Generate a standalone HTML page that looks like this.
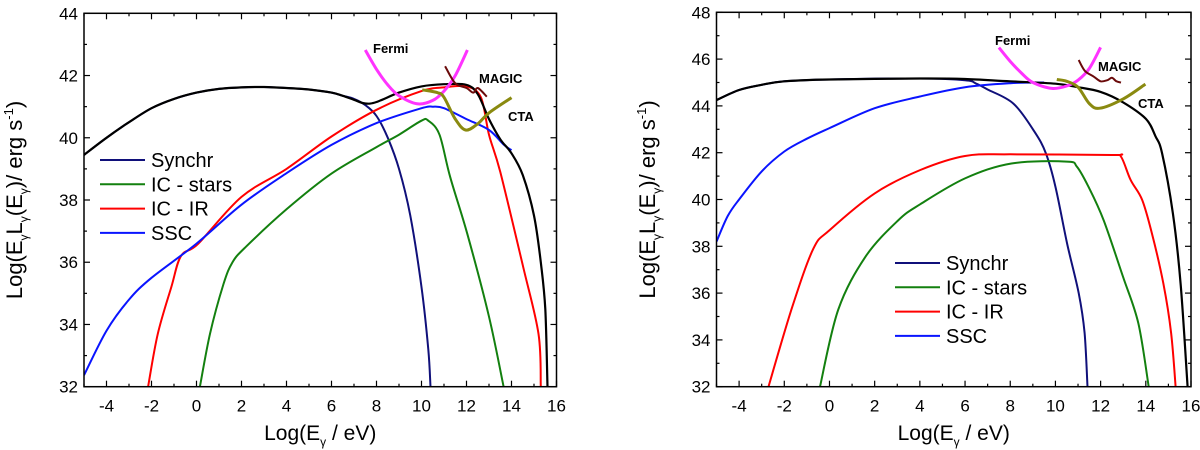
<!DOCTYPE html>
<html><head><meta charset="utf-8"><style>
html,body{margin:0;padding:0;background:#fff;}
svg{display:block;font-family:"Liberation Sans",sans-serif;}
</style></head><body>
<svg id="svg" width="1200" height="450" viewBox="0 0 1200 450"></svg>
<script>
// ---------- data: left panel ----------
const leftTotal=[[-5,39.45],[-4,40.0],[-3,40.5],[-2,40.95],[-1,41.25],[0,41.45],[1,41.57],[2,41.62],[3,41.63],[4,41.6],[5,41.55],[6,41.45],[6.5,41.35],[7,41.22],[7.5,41.1],[8,41.15],[9,41.45],[10,41.65],[11,41.72],[12,41.7],[12.5,41.4],[13,40.6],[13.5,39.95],[14,39.5],[14.5,38.8],[15,37.5],[15.3,36.0],[15.5,34.5],[15.6,32]];
const leftSynchr=[[-5,39.45],[-4,40.0],[-3,40.5],[-2,40.95],[-1,41.25],[0,41.45],[1,41.57],[2,41.62],[3,41.63],[4,41.6],[5,41.55],[6,41.45],[6.5,41.35],[7,41.25],[7.5,41.05],[8,40.7],[8.5,40.0],[9,39.0],[9.5,37.5],[10,35.2],[10.3,33.2],[10.4,32]];
const leftICstars=[[0.15,32],[0.6,33.7],[1.2,35.3],[1.6,36.0],[2.2,36.5],[4,37.7],[6,38.85],[8,39.7],[9,40.1],[10,40.55],[10.3,40.55],[10.8,40.1],[11.27,38.75],[12.04,36.9],[13.0,34.25],[13.65,32]];
const leftICIR=[[-2.15,32],[-1.72,33.7],[-1.12,35.2],[-0.69,36.2],[0.08,36.6],[2,38.1],[4,39.0],[6,40.04],[8,40.9],[10,41.5],[11,41.62],[12,41.65],[12.64,41.3],[13.0,40.1],[13.5,38.9],[14.5,35.9],[15.2,33.7],[15.3,32]];
const leftSSC=[[-5,32.37],[-4,33.8],[-3,34.8],[-2,35.5],[0,36.6],[2,37.85],[4,38.86],[6,39.77],[8,40.47],[10,40.95],[10.5,41.0],[11,40.95],[12,40.6],[13,40.25],[13.67,39.77],[14,39.6]];
const leftFermi=[[7.5,42.82],[8,42.2],[8.5,41.7],[9,41.35],[9.8,41.09],[10.5,41.2],[11,41.5],[11.5,42.0],[12.04,42.82]];
const leftMAGIC=[[11.05,42.3],[11.5,41.75],[12,41.6],[12.3,41.45],[12.5,41.6],[12.9,41.32]];
const leftCTA=[[10.03,41.54],[10.7,41.45],[11,41.3],[11.5,40.6],[11.96,40.25],[12.5,40.45],[13,40.8],[14,41.29]];
// ---------- data: right panel ----------
const rightTotal=[[-5,44.25],[-4,44.68],[-3,44.9],[-2,45.05],[0,45.13],[4,45.17],[6,45.15],[8,45.05],[10,44.95],[11,44.8],[12,44.6],[13,44.15],[14,43.45],[14.43,42.7],[14.72,41.97],[15.2,39.4],[15.54,36.4],[15.85,32]];
const rightSynchr=[[-5,44.25],[-4,44.68],[-3,44.9],[-2,45.05],[0,45.13],[4,45.17],[6,45.1],[6.5,44.95],[7,44.7],[8.14,44.1],[9.07,42.9],[9.58,41.97],[10,40.55],[10.52,38.1],[11.03,36.0],[11.29,34.3],[11.42,32]];
const rightICstars=[[-0.42,32],[0.39,35.3],[1.59,37.55],[3.03,39.1],[4.02,39.8],[6,40.9],[8.05,41.54],[10.5,41.62],[10.95,41.4],[11.46,40.55],[12.14,39.1],[12.99,36.7],[13.67,34.7],[14.13,32]];
const rightICIR=[[-2.7,32],[-1.65,35.4],[-0.71,37.9],[0.02,38.7],[2,40.26],[4.02,41.26],[6,41.86],[8,41.93],[12.5,41.9],[12.9,41.83],[13.33,40.83],[13.84,39.98],[14.27,38.55],[14.78,36.4],[15.12,34.3],[15.32,32]];
const rightSSC=[[-5,38.2],[-4.5,39.3],[-4,40.0],[-3,41.2],[-2,42.05],[-1,42.6],[0,43.05],[2,43.9],[4,44.4],[6,44.8],[8,44.97],[9.5,45.0]];
const rightFermi=[[7.5,46.49],[8,45.9],[8.5,45.4],[9,45.0],[9.84,44.75],[10.5,44.85],[11,45.1],[11.5,45.6],[12,46.5]];
const rightMAGIC=[[11.03,45.96],[11.3,45.5],[11.7,45.25],[12,45.05],[12.3,45.1],[12.5,45.2],[12.7,45.05],[12.9,45.0]];
const rightCTA=[[10.06,45.13],[10.5,45.05],[11,44.8],[11.5,44.1],[11.97,43.9],[13,44.3],[13.98,44.93]];
const xTicks=[-4,-2,0,2,4,6,8,10,12,14,16];
const leftYTicks=[32,34,36,38,40,42,44];
const rightYTicks=[32,34,36,38,40,42,44,46,48];
const legendLabels=["Synchr","IC - stars","IC - IR","SSC"];

const NS="http://www.w3.org/2000/svg";
const svg=document.getElementById('svg');
function mk(tag,attrs,parent){const e=document.createElementNS(NS,tag);for(const k in attrs)e.setAttribute(k,attrs[k]);(parent||svg).appendChild(e);return e;}
const colors={total:"#000",syn:"#10107a",stars:"#13800f",ir:"#ff0000",ssc:"#0a14ff",fermi:"#ff33ff",magic:"#6a0a0a",cta:"#8a8a10"};

function smooth(pts){
  let d='M'+pts[0][0].toFixed(1)+','+pts[0][1].toFixed(1);
  for(let i=0;i<pts.length-1;i++){
    const p0=pts[i-1]||pts[i],p1=pts[i],p2=pts[i+1],p3=pts[i+2]||p2;
    const c1=[p1[0]+(p2[0]-p0[0])/6,p1[1]+(p2[1]-p0[1])/6];
    const c2=[p2[0]-(p3[0]-p1[0])/6,p2[1]-(p3[1]-p1[1])/6];
    d+=' C'+c1[0].toFixed(1)+','+c1[1].toFixed(1)+' '+c2[0].toFixed(1)+','+c2[1].toFixed(1)+' '+p2[0].toFixed(1)+','+p2[1].toFixed(1);
  }
  return d;
}

function panel(p){
  const g=mk('g',{});
  
  
  const X=v=>p.x0+(v-p.xmin)/(p.xmax-p.xmin)*(p.x1-p.x0);
  const Y=v=>p.y1-(v-p.ymin)/(p.ymax-p.ymin)*(p.y1-p.y0);
  const clip='clip-'+p.name;
  const cp=mk('clipPath',{id:clip},g);
  mk('rect',{x:p.x0,y:p.y0,width:p.x1-p.x0,height:p.y1-p.y0},cp);
  const series=[[p.syn,colors.syn,'synchr-curve',2],[p.stars,colors.stars,'ic-stars-curve',2],[p.ir,colors.ir,'ic-ir-curve',2],[p.ssc,colors.ssc,'ssc-curve',2],[p.total,colors.total,'total-curve',2.2],[p.fermi,colors.fermi,'fermi-sensitivity',3],[p.magic,colors.magic,'magic-sensitivity',2],[p.cta,colors.cta,'cta-sensitivity',3]];
  series.forEach(s=>{
    const d=smooth(s[0].map(pt=>[X(pt[0]),Y(pt[1])]));
    const path=mk('path',{d:d,fill:'none',stroke:s[1],'stroke-width':s[3],'stroke-linejoin':'round','clip-path':'url(#'+clip+')'},g);
    
    
  });
  const fr=mk('rect',{x:p.x0,y:p.y0,width:p.x1-p.x0,height:p.y1-p.y0,fill:'none',stroke:'#000','stroke-width':1.5},g);
  
  
  for(let v=p.xmin;v<=p.xmax;v++){
    const len=(v%2===0)?6:3;const x=X(v);
    mk('line',{x1:x,x2:x,y1:p.y1,y2:p.y1-len,stroke:'#000','stroke-width':1.2},g);
    mk('line',{x1:x,x2:x,y1:p.y0,y2:p.y0+len,stroke:'#000','stroke-width':1.2},g);
  }
  xTicks.forEach(v=>{const t=mk('text',{x:X(v),y:p.y1+25,'font-size':17,'text-anchor':'middle'},g);t.textContent=v;
    });
  for(let v=p.ymin;v<=p.ymax;v++){
    const len=(v%2===0)?6:3;const y=Y(v);
    mk('line',{x1:p.x0,x2:p.x0+len,y1:y,y2:y,stroke:'#000','stroke-width':1.2},g);
    mk('line',{x1:p.x1,x2:p.x1-len,y1:y,y2:y,stroke:'#000','stroke-width':1.2},g);
  }
  p.yticks.forEach(v=>{const t=mk('text',{x:p.x0-6,y:Y(v)+6,'font-size':17,'text-anchor':'end'},g);t.textContent=v;
    });
  [['Fermi',p.fermiL],['MAGIC',p.magicL],['CTA',p.ctaL]].forEach(l=>{
    const t=mk('text',{x:l[1][0],y:l[1][1],'font-size':13,'font-weight':'bold'},g);t.textContent=l[0];
    });
  const lc=[colors.syn,colors.stars,colors.ir,colors.ssc];
  legendLabels.forEach((lab,i)=>{
    const y=p.leg[2]+i*24.3;
    const lg=mk('g',{},g);
    
    mk('line',{x1:p.leg[0],x2:p.leg[0]+45,y1:y,y2:y,stroke:lc[i],'stroke-width':2},lg);
    const t=mk('text',{x:p.leg[1],y:y+7,'font-size':20},lg);t.textContent=lab;
  });
  const xt=mk('text',{x:(p.x0+p.x1)/2,y:440,'font-size':21,'text-anchor':'middle'},g);
  
  xt.innerHTML='Log(E<tspan font-size="12" dy="6">γ</tspan><tspan dy="-6"> / eV)</tspan>';
  const yt=mk('text',{x:0,y:0,'font-size':22,'text-anchor':'middle',transform:'translate('+p.ylx+','+((p.y0+p.y1)/2)+') rotate(-90)'},g);
  
  yt.innerHTML='Log(E<tspan font-size="12" dy="6">γ</tspan><tspan dy="-6">L</tspan><tspan font-size="12" dy="6">γ</tspan><tspan dy="-6">(E</tspan><tspan font-size="12" dy="6">γ</tspan><tspan dy="-6">)/ erg s</tspan><tspan font-size="13" dy="-9">-1</tspan><tspan dy="9">)</tspan>';
}
panel({name:'left-panel',x0:84,x1:556.5,y0:13.3,y1:386.7,xmin:-5,xmax:16,ymin:32,ymax:44,yticks:leftYTicks,
  total:leftTotal,syn:leftSynchr,stars:leftICstars,ir:leftICIR,ssc:leftSSC,fermi:leftFermi,magic:leftMAGIC,cta:leftCTA,
  fermiL:[373,53],magicL:[479,83],ctaL:[508,121],leg:[100,151,160],ylx:22});
panel({name:'right-panel',x0:716.5,x1:1191,y0:12.3,y1:386.7,xmin:-5,xmax:16,ymin:32,ymax:48,yticks:rightYTicks,
  total:rightTotal,syn:rightSynchr,stars:rightICstars,ir:rightICIR,ssc:rightSSC,fermi:rightFermi,magic:rightMAGIC,cta:rightCTA,
  fermiL:[995,45],magicL:[1098,71],ctaL:[1138,108],leg:[895,946,263],ylx:655});
</script>
</body></html>
